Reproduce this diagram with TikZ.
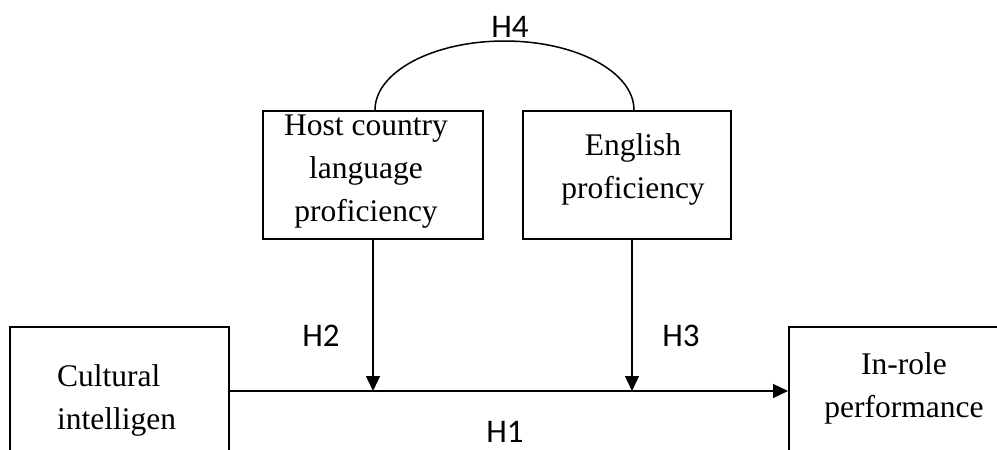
\documentclass[tikz,border=0pt]{standalone}
\usepackage{fontspec}
\setmainfont{Liberation Serif}
\newfontfamily\hypfont{Carlito}
\usetikzlibrary{positioning,arrows.meta}

\begin{document}
\begin{tikzpicture}[x=1pt,y=-1pt,
  box/.style={draw,line width=2pt,minimum height=128pt,inner sep=0pt},
  boxtext/.style={align=center,inner sep=0pt,font=\fontsize{31.5}{43}\selectfont},
  hyp/.style={inner sep=0pt,font=\hypfont\fontsize{33}{33}\selectfont},
  arr/.style={line width=1.3pt,-{Triangle[length=15pt,width=14pt]}}]

\def\ly{391}; \def\ty{175};

\useasboundingbox (0,0) rectangle (997,450);
\clip (0,0) rectangle (997,450);

% boxes
\node[box,minimum width=219pt] (ci) at (119.5,\ly) {};
\node[box,minimum width=219pt] (irp) at (898.5,\ly) {};
\node[box,minimum width=220pt] (hclp) at (373,\ty) {};
\node[box,minimum width=208pt] (ep) at (627,\ty) {};

\node[boxtext,align=left,anchor=west] (ciText) at (57,400) {Cultural\\intelligen};
\node[boxtext] (irpText) at (904,388) {In-role\\performance};
\node[boxtext] (hclpText) at (366,172) {Host country\\language\\proficiency};
\node[boxtext] (epText) at (633,169) {English\\proficiency};

% hypotheses
\coordinate (m2) at (373,\ly);
\coordinate (m3) at (632,\ly);
\draw[arr] (ci.east) -- (irp.west);
\draw[arr] (hclp.south) -- (m2);
\draw[arr] (ep.south -| m3) -- (m3);
\draw[line width=1.5pt] ([xshift=2pt]hclp.north) arc[start angle=180,end angle=0,x radius=129.5pt,y radius=69pt];

\node[hyp] (h1) at (505,432) {H1};
\node[hyp] (h2) at (321,336) {H2};
\node[hyp] (h3) at (681,336) {H3};
\node[hyp] (h4) at (510,27) {H4};

\end{tikzpicture}
\end{document}
